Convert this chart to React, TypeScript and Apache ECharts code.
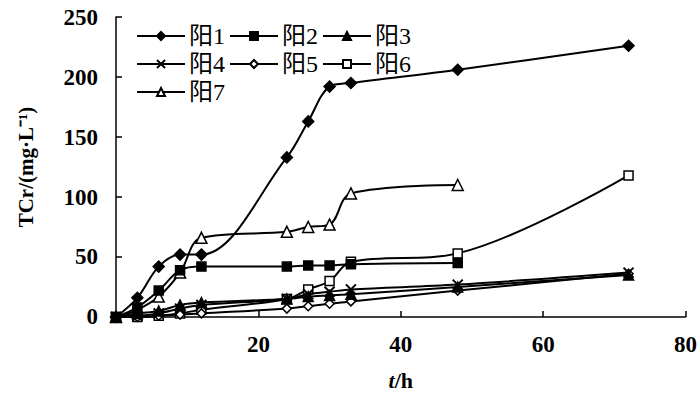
import React, { useEffect, useRef } from "react";
import * as echarts from "echarts";

const times = [0, 3, 6, 9, 12, 24, 27, 30, 33, 48, 72];
const seriesNames = ["阳1", "阳2", "阳3", "阳4", "阳5", "阳6", "阳7"];
const yang1 = [0, 16, 42, 52, 52, 133, 163, 192, 195, 206, 226];
const yang2 = [0, 8, 22, 39, 42, 42, 43, 43, 44, 45];
const yang3 = [0, 3, 5, 10, 12, 15, 17, 18, 19, 25, 35];
const yang4 = [0, 1, 3, 7, 10, 15, 19, 21, 23, 27, 37];
const yang5 = [0, 0, 1, 2, 3, 7, 9, 11, 13, 22, 36];
const yang6 = [0, 0, 1, 3, 6, 15, 23, 30, 46, 53, 118];
const yang7 = [0, 6, 17, 37, 66, 71, 75, 77, 103, 110];
const xTicks = [20, 40, 60, 80];
const yTicks = [0, 50, 100, 150, 200, 250];

const FONT = "'Liberation Serif', 'Noto Sans CJK SC', serif";

export default function App() {
  const ref = useRef<HTMLDivElement>(null);
  useEffect(() => {
    if (!ref.current) return;
    const chart = echarts.init(ref.current, null, { renderer: "svg" });
    const allValues = [yang1, yang2, yang3, yang4, yang5, yang6, yang7];
    const symbols = [
      "diamond",
      "rect",
      "triangle",
      "path://M0,0L10,10M10,0L0,10",
      "diamond",
      "rect",
      "triangle",
    ];
    const open = [false, false, false, false, true, true, true];
    const sizes = [11, 9, 10, 10, 9, 9, 11];
    const series = allValues.map((vals, i) => ({
      name: seriesNames[i],
      type: "line",
      smooth: 0.35,
      data: vals.map((v, j) => [times[j], v]),
      symbol: symbols[i],
      symbolSize: sizes[i],
      showSymbol: true,
      lineStyle: { color: "#000", width: 2 },
      itemStyle: {
        color: open[i] ? "#fff" : "#000",
        borderColor: "#000",
        borderWidth: i === 3 ? 2 : 1.5,
      },
      z: 10 - i,
    }));
    chart.setOption({
      animation: false,
      backgroundColor: "#fff",
      textStyle: { fontFamily: FONT, color: "#000" },
      grid: { left: 116, right: 14, top: 17, bottom: 79 },
      legend: {
        left: 131,
        top: 19,
        width: 290,
        itemWidth: 48,
        itemHeight: 10,
        itemGap: 4,
        data: seriesNames,
        textStyle: { fontFamily: FONT, fontSize: 24, color: "#000", padding: [0, 0, 0, -1] },
      },
      xAxis: {
        type: "value",
        min: 0,
        max: 80,
        interval: 20,
        name: "{i|t}/h",
        nameLocation: "middle",
        nameGap: 52,
        nameTextStyle: {
          fontFamily: FONT,
          fontSize: 22,
          fontWeight: "bold",
          color: "#000",
          rich: {
            i: { fontFamily: FONT, fontSize: 22, fontStyle: "italic", fontWeight: "bold", color: "#000" },
          },
        },
        axisLine: { show: true, lineStyle: { color: "#000", width: 1.5 } },
        axisTick: { show: true, inside: true, length: 6, lineStyle: { color: "#000", width: 1.5 } },
        axisLabel: {
          fontFamily: FONT,
          fontSize: 23,
          fontWeight: "bold",
          color: "#000",
          margin: 16,
          formatter: (v: number) => (xTicks.includes(v) ? String(v) : ""),
        },
        splitLine: { show: false },
      },
      yAxis: {
        type: "value",
        min: 0,
        max: 250,
        interval: 50,
        name: "TCr/(mg·L⁻¹)",
        nameLocation: "middle",
        nameGap: 80,
        nameTextStyle: { fontFamily: FONT, fontSize: 21, fontWeight: "bold", color: "#000" },
        axisLine: { show: true, lineStyle: { color: "#000", width: 1.5 } },
        axisTick: { show: true, inside: true, length: 6, lineStyle: { color: "#000", width: 1.5 } },
        axisLabel: {
          fontFamily: FONT,
          fontSize: 23,
          fontWeight: "bold",
          color: "#000",
          margin: 18,
          formatter: (v: number) => (yTicks.includes(v) ? String(v) : ""),
        },
        splitLine: { show: false },
      },
      series,
    });
    return () => chart.dispose();
  }, []);
  return <div ref={ref} style={{ width: 700, height: 396, position: "absolute", left: 0, top: 0 }} />;
}
